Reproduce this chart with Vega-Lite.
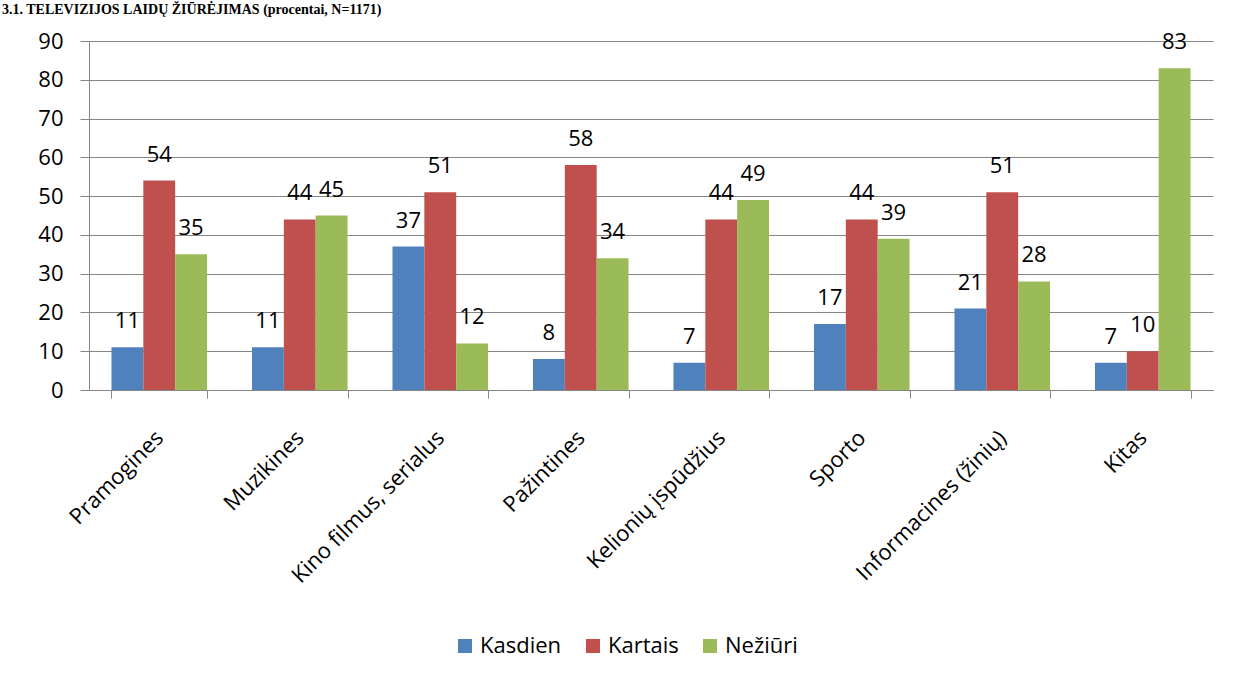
{
  "$schema": "https://vega.github.io/schema/vega-lite/v6.json",
  "width": 1124,
  "height": 349,
  "autosize": "none",
  "padding": {"left": 89, "top": 41, "right": 21, "bottom": 290},
  "background": "white",
  "title": {
    "text": "3.1. TELEVIZIJOS LAIDŲ ŽIŪRĖJIMAS (procentai, N=1171)",
    "anchor": "start",
    "frame": "group",
    "font": "Liberation Serif",
    "fontSize": 14,
    "fontWeight": "bold",
    "color": "#000000",
    "baseline": "top",
    "orient": "top",
    "offset": 0,
    "dy": -13,
    "dx": -87
  },
  "data": {
    "values": [
      {"cat": "Pramogines", "series": "Kasdien", "value": 11},
      {"cat": "Pramogines", "series": "Kartais", "value": 54},
      {"cat": "Pramogines", "series": "Nežiūri", "value": 35},
      {"cat": "Muzikines", "series": "Kasdien", "value": 11},
      {"cat": "Muzikines", "series": "Kartais", "value": 44},
      {"cat": "Muzikines", "series": "Nežiūri", "value": 45},
      {"cat": "Kino filmus, serialus", "series": "Kasdien", "value": 37},
      {"cat": "Kino filmus, serialus", "series": "Kartais", "value": 51},
      {"cat": "Kino filmus, serialus", "series": "Nežiūri", "value": 12},
      {"cat": "Pažintines", "series": "Kasdien", "value": 8},
      {"cat": "Pažintines", "series": "Kartais", "value": 58},
      {"cat": "Pažintines", "series": "Nežiūri", "value": 34},
      {"cat": "Kelionių įspūdžius", "series": "Kasdien", "value": 7},
      {"cat": "Kelionių įspūdžius", "series": "Kartais", "value": 44},
      {"cat": "Kelionių įspūdžius", "series": "Nežiūri", "value": 49},
      {"cat": "Sporto", "series": "Kasdien", "value": 17},
      {"cat": "Sporto", "series": "Kartais", "value": 44},
      {"cat": "Sporto", "series": "Nežiūri", "value": 39},
      {"cat": "Informacines (žinių)", "series": "Kasdien", "value": 21},
      {"cat": "Informacines (žinių)", "series": "Kartais", "value": 51},
      {"cat": "Informacines (žinių)", "series": "Nežiūri", "value": 28},
      {"cat": "Kitas", "series": "Kasdien", "value": 7},
      {"cat": "Kitas", "series": "Kartais", "value": 10},
      {"cat": "Kitas", "series": "Nežiūri", "value": 83}
    ]
  },
  "encoding": {
    "x": {
      "field": "cat",
      "type": "nominal",
      "sort": null,
      "scale": {"paddingInner": 0.32, "paddingOuter": 0.16},
      "axis": {
        "title": null,
        "grid": false,
        "domainColor": "#868686",
        "domainWidth": 1,
        "tickColor": "#868686",
        "tickSize": 8,
        "tickBand": "extent",
        "labelAngle": -45,
        "labelAlign": "right",
        "labelBaseline": "middle",
        "labelFont": "Open Sans",
        "labelFontSize": 22,
        "labelColor": "#000000",
        "labelPadding": 36,
        "labelLimit": 400
      }
    },
    "xOffset": {"field": "series", "type": "nominal", "sort": ["Kasdien", "Kartais", "Nežiūri"]},
    "y": {
      "field": "value",
      "type": "quantitative",
      "scale": {"domain": [0, 90], "nice": false},
      "axis": {
        "title": null,
        "values": [0, 10, 20, 30, 40, 50, 60, 70, 80, 90],
        "grid": true,
        "gridColor": "#868686",
        "domainColor": "#868686",
        "tickColor": "#868686",
        "tickSize": 9,
        "labelFont": "Open Sans",
        "labelFontSize": 22,
        "labelColor": "#000000",
        "labelPadding": 17
      }
    }
  },
  "layer": [
    {
      "mark": {"type": "bar"},
      "encoding": {
        "color": {
          "field": "series",
          "type": "nominal",
          "sort": ["Kasdien", "Kartais", "Nežiūri"],
          "scale": {"domain": ["Kasdien", "Kartais", "Nežiūri"], "range": ["#4F81BD", "#C0504D", "#9BBB59"]},
          "legend": {
            "title": null,
            "orient": "none",
            "legendX": 365,
            "legendY": 594,
            "direction": "horizontal",
            "symbolType": "square",
            "symbolSize": 196,
            "symbolStrokeWidth": 0,
            "labelFont": "Open Sans",
            "labelFontSize": 22,
            "labelColor": "#000000",
            "labelOffset": 4,
            "columnPadding": 20
          }
        }
      }
    },
    {
      "mark": {"type": "text", "baseline": "alphabetic", "dy": -19, "font": "Open Sans", "fontSize": 22, "color": "#000000"},
      "encoding": {"text": {"field": "value", "type": "quantitative"}}
    }
  ],
  "config": {"view": {"stroke": null}}
}
